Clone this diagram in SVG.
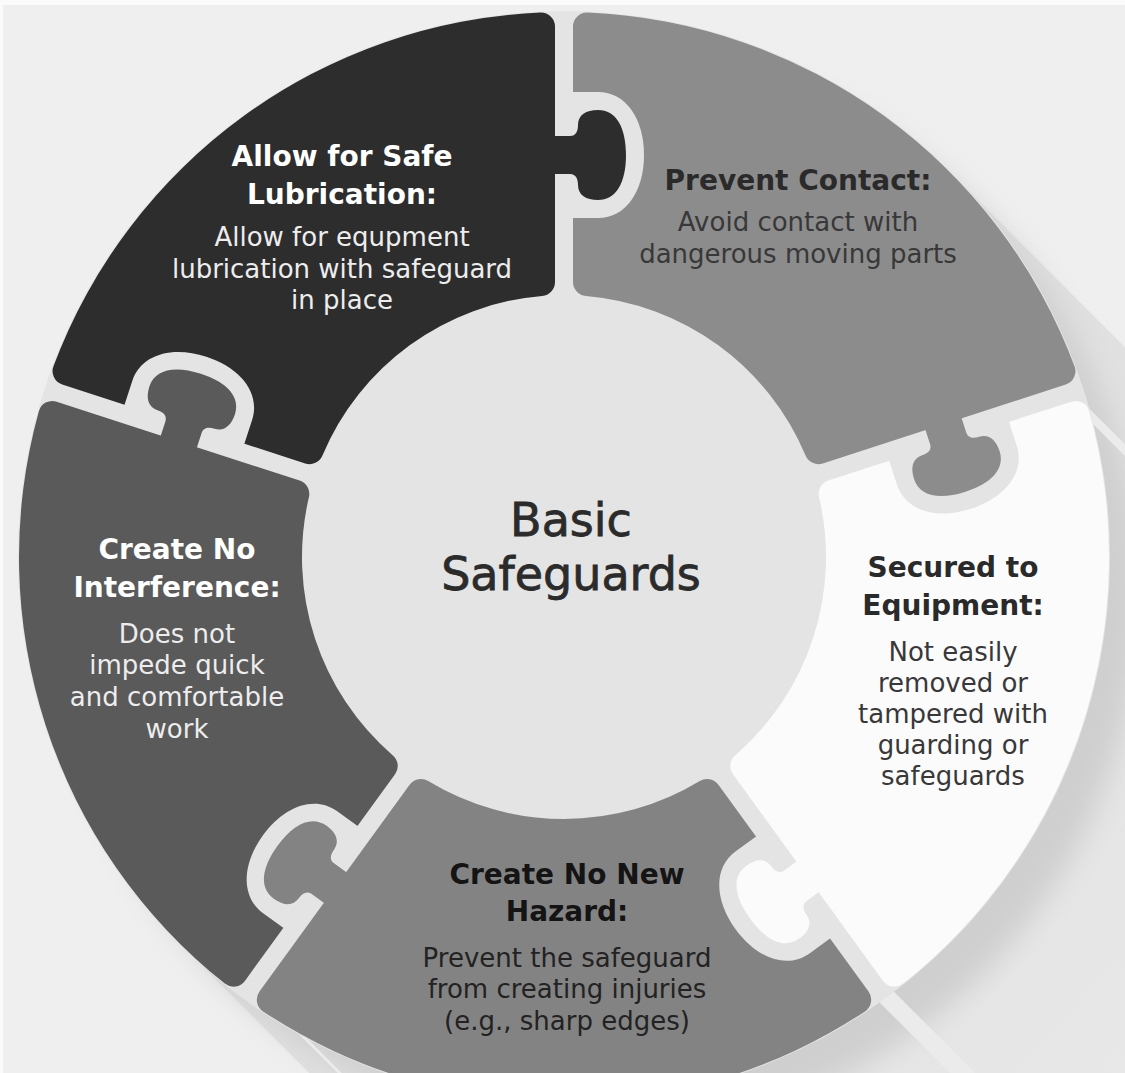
<svg xmlns="http://www.w3.org/2000/svg" width="1125" height="1073" viewBox="0 0 1125 1073">
<defs>
<style>
text { font-family: "DejaVu Sans", "Liberation Sans", sans-serif; text-anchor: middle; }
.h { font-size: 28px; font-weight: bold; }
.b { font-size: 26px; }
.wh { fill: #ffffff; }
.whb { fill: #ededed; }
.dk { fill: #2a2a2a; }
.dkb { fill: #383838; }
.title { font-size: 46px; fill: #2b2b2b; stroke: #2b2b2b; stroke-width: 0.8; }
.stripe { fill: #ebebeb; }
</style>
<path id="sector" d="M -300.94 -454.38 A 545 545 0 0 1 300.94 -454.38 A 14 14 0 0 1 304.54 -434.48 L 154.39 -227.80 A 14 14 0 0 1 135.80 -224.06 A 262 262 0 0 0 -135.80 -224.06 A 14 14 0 0 1 -154.39 -227.80 L -304.54 -434.48 A 14 14 0 0 1 -300.94 -454.38 Z"/>
<path id="knob" d="M 383 -14 L 383 6 C 383 12 378 14 372 14 C 362 14 357 22 357 34 C 357 52 374 62 402 62 C 430 62 447 52 447 34 C 447 22 442 14 432 14 C 426 14 421 12 421 6 L 421 -14 Z"/>
<mask id="sock" maskUnits="userSpaceOnUse" x="-600" y="-600" width="1200" height="1200">
<rect x="-600" y="-600" width="1200" height="1200" fill="#ffffff"/>
<path transform="rotate(-126)" fill="#000000" d="M 339 -4 L 339 34 C 339 62 366 80 402 80 C 438 80 465 62 465 34 L 465 -4 Z"/>
</mask>
<linearGradient id="longShadow" gradientUnits="userSpaceOnUse" x1="564" y1="557" x2="1125" y2="1073">
<stop offset="0" stop-color="#dddddd"/>
<stop offset="1" stop-color="#e8e8e8"/>
</linearGradient>
<filter id="soft" x="-20%" y="-20%" width="140%" height="140%">
<feGaussianBlur stdDeviation="14"/>
</filter>
</defs>

<g id="background">
<rect x="0" y="0" width="1125" height="1073" fill="#fbfbfb"/>
<rect x="3" y="5" width="1122" height="1068" fill="#efefef"/>
<path d="M 949.4 171.6 L 1749 971 L 978 1742 L 178.6 942.4 Z" fill="url(#longShadow)"/>
<circle cx="600" cy="593" r="540" fill="#cfcfcf" filter="url(#soft)"/>
<polygon class="stripe" points="868.2,991.1 882.8,980.5 1132.8,1230.5 1118.2,1241.1"/>
<polygon class="stripe" points="1065.3,384.6 1070.9,401.8 1220.9,551.8 1215.3,534.6"/>
<polygon class="stripe" points="245.2,980.5 259.8,991.1 509.8,1241.1 495.2,1230.5"/>
<circle cx="564" cy="557" r="546" fill="#e4e4e4"/>
</g>

<g id="node-lubrication">
<g transform="translate(564 557) rotate(-36)"><g mask="url(#sock)" fill="#2d2d2d"><use href="#sector"/><use href="#knob" transform="rotate(-54)"/></g></g>
<text class="h wh" x="342" y="166">Allow for Safe</text>
<text class="h wh" x="342" y="204">Lubrication:</text>
<text class="b whb" x="342" y="246">Allow for equpment</text>
<text class="b whb" x="342" y="278">lubrication with safeguard</text>
<text class="b whb" x="342" y="309">in place</text>
</g>

<g id="node-prevent-contact">
<g transform="translate(564 557) rotate(36)"><g mask="url(#sock)" fill="#8c8c8c"><use href="#sector"/><use href="#knob" transform="rotate(-54)"/></g></g>
<text class="h dk" x="798" y="190">Prevent Contact:</text>
<text class="b dkb" x="798" y="231">Avoid contact with</text>
<text class="b dkb" x="798" y="263">dangerous moving parts</text>
</g>

<g id="node-secured">
<g transform="translate(564 557) rotate(108)"><g mask="url(#sock)" fill="#fbfbfb"><use href="#sector"/><use href="#knob" transform="rotate(-54)"/></g></g>
<text class="h dk" x="953" y="577">Secured to</text>
<text class="h dk" x="953" y="615">Equipment:</text>
<text class="b dkb" x="953" y="661">Not easily</text>
<text class="b dkb" x="953" y="692">removed or</text>
<text class="b dkb" x="953" y="723">tampered with</text>
<text class="b dkb" x="953" y="754">guarding or</text>
<text class="b dkb" x="953" y="785">safeguards</text>
</g>

<g id="node-hazard">
<g transform="translate(564 557) rotate(180)"><g mask="url(#sock)" fill="#838383"><use href="#sector"/><use href="#knob" transform="rotate(-54)"/></g></g>
<text class="h" x="567" y="884" fill="#141414">Create No New</text>
<text class="h" x="567" y="921" fill="#141414">Hazard:</text>
<text class="b" x="567" y="967" fill="#222222" font-size="25">Prevent the safeguard</text>
<text class="b" x="567" y="998" fill="#222222" font-size="25">from creating injuries</text>
<text class="b" x="567" y="1030" fill="#222222" font-size="25">(e.g., sharp edges)</text>
</g>

<g id="node-interference">
<g transform="translate(564 557) rotate(252)"><g mask="url(#sock)" fill="#5a5a5a"><use href="#sector"/><use href="#knob" transform="rotate(-54)"/></g></g>
<text class="h wh" x="177" y="559">Create No</text>
<text class="h wh" x="177" y="597">Interference:</text>
<text class="b whb" x="177" y="643">Does not</text>
<text class="b whb" x="177" y="674">impede quick</text>
<text class="b whb" x="177" y="706">and comfortable</text>
<text class="b whb" x="177" y="738">work</text>
</g>

<g id="node-center">
<text class="title" x="571" y="536">Basic</text>
<text class="title" x="571" y="590">Safeguards</text>
</g>

<g id="connectors"></g>
</svg>
